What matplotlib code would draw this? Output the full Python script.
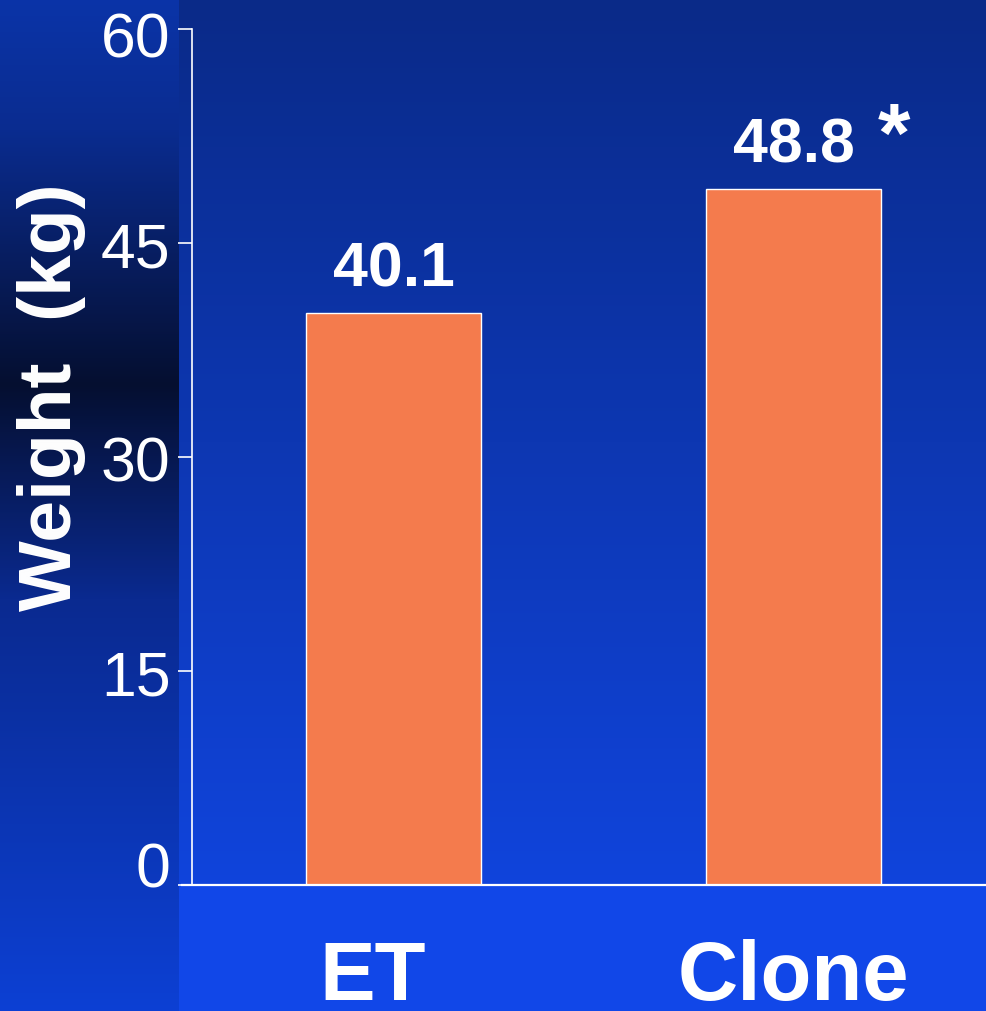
import matplotlib.pyplot as plt
import numpy as np
from matplotlib.colors import to_rgb
from matplotlib.transforms import ScaledTranslation

groups = ['ET', 'Clone']
weights = [40.1, 48.8]
value_labels = ['40.1', '48.8']
y_ticks = [0, 15, 30, 45, 60]

W, H = 986, 1012


def ramp(stops, n):
    '''build a vertical colour ramp of n rows from (row, colour) stops'''
    rows = np.arange(n)
    pos = [s[0] for s in stops]
    cols = np.array([to_rgb(s[1]) for s in stops])
    return np.stack([np.interp(rows, pos, cols[:, k]) for k in range(3)], axis=1)


# background: slide-like gradient, darker strip on the left
bg = np.zeros((H, W, 3))
main = ramp([(0, '#0a2a88'), (886, '#1044dc'), (887, '#1147e8'), (H, '#1147e8')], H)
strip = ramp([(0, '#0b34a8'), (130, '#0a2c90'), (385, '#050f30'),
              (600, '#0a2a90'), (H, '#0d40d4')], H)
bg[:, 179:, :] = main[:, None, :]
bg[:, :179, :] = strip[:, None, :]

fig = plt.figure(figsize=(W / 100, H / 100), dpi=100)
bg_ax = fig.add_axes([0, 0, 1, 1], zorder=-1)
bg_ax.imshow(bg, aspect='auto', interpolation='bilinear')
bg_ax.axis('off')

ax = fig.add_axes([192 / W, 1 - 886 / H, 1 - 192 / W, (886 - 30) / H])
ax.patch.set_alpha(0)

x = np.arange(len(groups))
bars = ax.bar(x, weights, width=0.4375, color='#f47b4d', edgecolor='white', linewidth=1)

for b, txt in zip(bars, value_labels):
    ax.text(b.get_x() + b.get_width() / 2, b.get_height() + 1.0, txt,
            ha='center', va='bottom', fontsize=45, fontweight='bold',
            color='white', family='Liberation Sans')
# significance mark next to the clone value
ax.text(x[1] + 0.25, 50.75, '*', ha='center', va='baseline', fontsize=60,
        fontweight='bold', color='white', family='Liberation Sans')

ax.set_xlim(-0.504, 1.48)
ax.set_ylim(0, 60)
ax.set_yticks(y_ticks)
ax.set_xticks(x)
ax.set_xticklabels(groups, fontsize=60, fontweight='bold', color='white',
                   family='Liberation Sans')
ax.tick_params(axis='x', length=0, pad=38)
ax.tick_params(axis='y', length=10, width=1.2, color='white', colors='white',
               labelsize=45, pad=5.5)
for lbl in ax.get_yticklabels():
    lbl.set_family('Liberation Sans')

# small nudges to match the original slide layout
def nudge(lbl, dx, dy):
    lbl.set_transform(lbl.get_transform() + ScaledTranslation(dx, dy, fig.dpi_scale_trans))

nudge(ax.get_xticklabels()[0], -0.21, 0)
ylbls = ax.get_yticklabels()
nudge(ylbls[0], 0, 0.21)
nudge(ylbls[-1], 0, -0.05)

for s in ['top', 'right']:
    ax.spines[s].set_visible(False)
ax.spines['left'].set_color('white')
ax.spines['bottom'].set_color('white')
ax.spines['left'].set_linewidth(1.2)
ax.spines['bottom'].set_linewidth(1.6)
ax.spines['bottom'].set_bounds(-0.53, 1.48)

fig.text(52 / W, 1 - 397 / H, 'Weight  (kg)', rotation=90, ha='center', va='center',
         fontsize=54, fontweight='bold', color='white', family='Liberation Sans')

fig.savefig('out.png', dpi=100)
